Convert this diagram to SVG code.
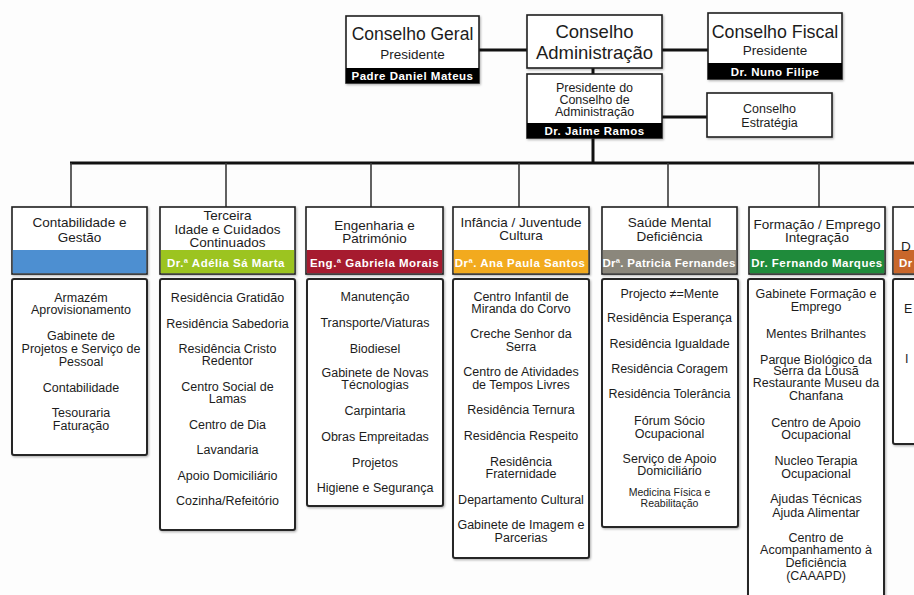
<svg xmlns="http://www.w3.org/2000/svg" width="914" height="595" viewBox="0 0 914 595">
<defs>
<filter id="sh" x="-5%" y="-5%" width="115%" height="115%">
<feDropShadow dx="1" dy="1.2" stdDeviation="0.8" flood-color="#000" flood-opacity="0.3"/>
</filter>
</defs>
<style>
.bg{fill:#fdfdfd}
.box{fill:#fff;stroke:#1e1e1e;stroke-width:1.6;filter:url(#sh)}
.lbox{fill:#fff;stroke:#262626;stroke-width:2;filter:url(#sh)}
.blk{fill:#000}
.t{font-family:"Liberation Sans",Arial,sans-serif;fill:#1c1c1c;text-anchor:middle}
.l{font-size:12.5px}
.s{font-size:10.5px}
.h{font-size:13.5px}
.big{font-size:17.5px}
.mid{font-size:13.5px}
.bt{font-family:"Liberation Sans",Arial,sans-serif;font-weight:bold;fill:#fff;text-anchor:middle;font-size:11.5px;letter-spacing:0.5px}
.c{stroke:#111;stroke-width:3;fill:none}
.d{stroke:#3a3a3a;stroke-width:1.6;fill:none}
</style>
<rect class="bg" x="0" y="0" width="914" height="595"/>

<g id="connectors">
<line class="c" x1="479" y1="50" x2="527" y2="50"/>
<line class="c" x1="662" y1="50" x2="708" y2="50"/>
<line class="c" x1="593" y1="68" x2="593" y2="74"/>
<line class="c" x1="662" y1="117" x2="707" y2="117"/>
<line class="c" x1="593" y1="138" x2="593" y2="163"/>
<line class="c" x1="70" y1="163" x2="914" y2="163"/>
<line class="d" x1="71" y1="163" x2="71" y2="207"/>
<line class="d" x1="226" y1="163" x2="226" y2="207"/>
<line class="d" x1="371" y1="163" x2="371" y2="207"/>
<line class="d" x1="519" y1="163" x2="519" y2="207"/>
<line class="d" x1="668" y1="163" x2="668" y2="207"/>
<line class="d" x1="819" y1="163" x2="819" y2="207"/>
</g>

<g id="conselho-geral">
<rect class="box" x="346" y="16" width="133" height="67"/>
<rect class="blk" x="346" y="68" width="133" height="15"/>
<text class="t big" x="412.5" y="40">Conselho Geral</text>
<text class="t mid" x="412.5" y="59">Presidente</text>
<text class="bt" x="412.5" y="79.5">Padre Daniel Mateus</text>
</g>

<g id="conselho-administracao">
<rect class="box" x="527" y="15" width="135" height="53"/>
<text class="t" x="594.5" y="38" style="font-size:18.5px">Conselho</text>
<text class="t" x="594.5" y="58.5" style="font-size:18.5px">Administração</text>
</g>

<g id="conselho-fiscal">
<rect class="box" x="708" y="13" width="134" height="66"/>
<rect class="blk" x="708" y="63" width="134" height="16"/>
<text class="t big" x="775" y="37.5" style="font-size:17.8px">Conselho Fiscal</text>
<text class="t mid" x="775" y="55">Presidente</text>
<text class="bt" x="775" y="76">Dr. Nuno Filipe</text>
</g>

<g id="presidente-ca">
<rect class="box" x="527" y="74" width="135" height="64"/>
<rect class="blk" x="527" y="123" width="135" height="15"/>
<text class="t l" x="594.5" y="91.5">Presidente do</text>
<text class="t l" x="594.5" y="104">Conselho de</text>
<text class="t l" x="594.5" y="115.5">Administração</text>
<text class="bt" x="594.5" y="134.5">Dr. Jaime Ramos</text>
</g>

<g id="conselho-estrategia">
<rect class="box" x="707" y="93" width="125" height="44"/>
<text class="t l" x="769.5" y="112.5">Conselho</text>
<text class="t l" x="769.5" y="126.5">Estratégia</text>
</g>

<g id="contabilidade-gestao">
<rect class="box" x="12" y="207" width="135" height="67"/>
<rect x="12.8" y="250" width="133.4" height="23.2" fill="#4d8fd1"/>
<text class="t h" x="79.5" y="227">Contabilidade e</text>
<text class="t h" x="79.5" y="242">Gestão</text>
<rect class="lbox" x="12" y="279" width="135" height="176" rx="2"/>
<text class="t l" x="81" y="301.5">Armazém</text>
<text class="t l" x="81" y="313.5">Aprovisionamento</text>
<text class="t l" x="81" y="339.5">Gabinete de</text>
<text class="t l" x="81" y="352.5">Projetos e Serviço de</text>
<text class="t l" x="81" y="365.5">Pessoal</text>
<text class="t l" x="81" y="391.5">Contabilidade</text>
<text class="t l" x="81" y="416.5">Tesouraria</text>
<text class="t l" x="81" y="429.5">Faturação</text>
</g>

<g id="terceira-idade">
<rect class="box" x="160" y="207" width="135" height="67"/>
<rect x="160.8" y="250" width="133.4" height="23.2" fill="#9cc420"/>
<text class="t h" x="227.5" y="220">Terceira</text>
<text class="t h" x="227.5" y="234">Idade e Cuidados</text>
<text class="t h" x="227.5" y="247">Continuados</text>
<text class="bt" x="226" y="266.5">Dr.ª Adélia Sá Marta</text>
<rect class="lbox" x="160" y="279" width="135" height="251" rx="2"/>
<text class="t l" x="227.5" y="301.5">Residência Gratidão</text>
<text class="t l" x="227.5" y="327.5">Residência Sabedoria</text>
<text class="t l" x="227.5" y="352.5">Residência Cristo</text>
<text class="t l" x="227.5" y="364.5">Redentor</text>
<text class="t l" x="227.5" y="390.5">Centro Social de</text>
<text class="t l" x="227.5" y="402.5">Lamas</text>
<text class="t l" x="227.5" y="428.5">Centro de Dia</text>
<text class="t l" x="227.5" y="453.5">Lavandaria</text>
<text class="t l" x="227.5" y="479.5">Apoio Domiciliário</text>
<text class="t l" x="227.5" y="504.5">Cozinha/Refeitório</text>
</g>

<g id="engenharia-patrimonio">
<rect class="box" x="306" y="207" width="137" height="67"/>
<rect x="306.8" y="250" width="135.4" height="23.2" fill="#a61b2f"/>
<text class="t h" x="374.5" y="230">Engenharia e</text>
<text class="t h" x="374.5" y="243">Património</text>
<text class="bt" x="374.5" y="266.5">Eng.ª Gabriela Morais</text>
<rect class="lbox" x="307" y="279" width="136" height="227" rx="2"/>
<text class="t l" x="375" y="300.5">Manutenção</text>
<text class="t l" x="375" y="326.5">Transporte/Viaturas</text>
<text class="t l" x="375" y="352.5">Biodiesel</text>
<text class="t l" x="375" y="376.5">Gabinete de Novas</text>
<text class="t l" x="375" y="388.5">Técnologias</text>
<text class="t l" x="375" y="414.5">Carpintaria</text>
<text class="t l" x="375" y="440.5">Obras Empreitadas</text>
<text class="t l" x="375" y="466.5">Projetos</text>
<text class="t l" x="375" y="491.5">Higiene e Segurança</text>
</g>

<g id="infancia-juventude">
<rect class="box" x="453" y="207" width="136" height="67"/>
<rect x="453.8" y="250" width="134.4" height="23.2" fill="#f2aa1e"/>
<text class="t h" x="521" y="227">Infância / Juventude</text>
<text class="t h" x="521" y="240">Cultura</text>
<text class="bt" x="520" y="266.5">Drª. Ana Paula Santos</text>
<rect class="lbox" x="453" y="279" width="136" height="279" rx="2"/>
<text class="t l" x="521" y="300.5">Centro Infantil de</text>
<text class="t l" x="521" y="312.5">Miranda do Corvo</text>
<text class="t l" x="521" y="337.5">Creche Senhor da</text>
<text class="t l" x="521" y="350.5">Serra</text>
<text class="t l" x="521" y="375.5">Centro de Atividades</text>
<text class="t l" x="521" y="388.5">de Tempos Livres</text>
<text class="t l" x="521" y="413.5">Residência Ternura</text>
<text class="t l" x="521" y="439.5">Residência Respeito</text>
<text class="t l" x="521" y="465.5">Residência</text>
<text class="t l" x="521" y="477.5">Fraternidade</text>
<text class="t l" x="521" y="503.5">Departamento Cultural</text>
<text class="t l" x="521" y="528.5">Gabinete de Imagem e</text>
<text class="t l" x="521" y="541.5">Parcerias</text>
</g>

<g id="saude-mental">
<rect class="box" x="602" y="207" width="135" height="67"/>
<rect x="602.8" y="250" width="133.4" height="23.2" fill="#8b877c"/>
<text class="t h" x="669.5" y="227">Saúde Mental</text>
<text class="t h" x="669.5" y="241">Deficiência</text>
<text class="bt" x="669" y="266.5" style="letter-spacing:0.3px">Drª. Patricia Fernandes</text>
<rect class="lbox" x="602" y="279" width="136" height="248" rx="2"/>
<text class="t l" x="669.5" y="297.5">Projecto ≠=Mente</text>
<text class="t l" x="669.5" y="321.5">Residência Esperança</text>
<text class="t l" x="669.5" y="347.5">Residência Igualdade</text>
<text class="t l" x="669.5" y="372.5">Residência Coragem</text>
<text class="t l" x="669.5" y="397.5">Residência Tolerância</text>
<text class="t l" x="669.5" y="424.5">Fórum Sócio</text>
<text class="t l" x="669.5" y="437.5">Ocupacional</text>
<text class="t l" x="669.5" y="462.5">Serviço de Apoio</text>
<text class="t l" x="669.5" y="474.5">Domiciliário</text>
<text class="t s" x="669.5" y="495.5">Medicina Física e</text>
<text class="t s" x="669.5" y="506.5">Reabilitação</text>
</g>

<g id="formacao-emprego">
<rect class="box" x="749" y="207" width="136" height="67"/>
<rect x="749.8" y="250" width="134.4" height="23.2" fill="#1f8b3b"/>
<text class="t h" x="817" y="229">Formação / Emprego</text>
<text class="t h" x="817" y="242">Integração</text>
<text class="bt" x="817" y="266.5">Dr. Fernando Marques</text>
<rect class="lbox" x="748" y="279" width="136" height="330" rx="2"/>
<text class="t l" x="816" y="297.5">Gabinete Formação e</text>
<text class="t l" x="816" y="310.5">Emprego</text>
<text class="t l" x="816" y="337.5">Mentes Brilhantes</text>
<text class="t l" x="816" y="363.5">Parque Biológico da</text>
<text class="t l" x="816" y="374.5">Serra da Lousã</text>
<text class="t l" x="816" y="386.5">Restaurante Museu da</text>
<text class="t l" x="816" y="399.5">Chanfana</text>
<text class="t l" x="816" y="426.5">Centro de Apoio</text>
<text class="t l" x="816" y="438.5">Ocupacional</text>
<text class="t l" x="816" y="464.5">Nucleo Terapia</text>
<text class="t l" x="816" y="477.5">Ocupacional</text>
<text class="t l" x="816" y="502.5">Ajudas Técnicas</text>
<text class="t l" x="816" y="516.5">Ajuda Alimentar</text>
<text class="t l" x="816" y="541.5">Centro de</text>
<text class="t l" x="816" y="553.5">Acompanhamento à</text>
<text class="t l" x="816" y="566.5">Deficiência</text>
<text class="t l" x="816" y="579.5">(CAAAPD)</text>
</g>

<g id="coluna-7">
<rect class="box" x="893" y="207" width="40" height="67"/>
<rect x="893.8" y="250" width="40" height="23.2" fill="#c9672b"/>
<text class="t h" x="901" y="251" style="text-anchor:start">D</text>
<text class="bt" x="899" y="266.5" style="text-anchor:start">Dr</text>
<rect class="lbox" x="893" y="279" width="40" height="165" rx="2"/>
<text class="t l" x="904" y="312.5" style="text-anchor:start">E</text>
<text class="t l" x="905" y="362.5" style="text-anchor:start">I</text>
</g>
</svg>
